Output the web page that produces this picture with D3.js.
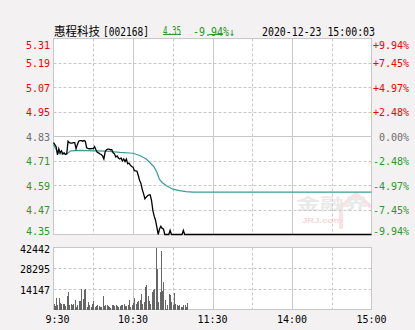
<!DOCTYPE html>
<html><head><meta charset="utf-8">
<script src="https://cdn.jsdelivr.net/npm/d3@7"></script>
<style>html,body{margin:0;padding:0;background:#f3f1f1;}svg{display:block}</style>
</head><body><svg id="c" width="415" height="330"></svg>
<script>
// ---- data ----
const stockName = "惠程科技";
const stockCode = "[002168]";
const lastPrice = "4.35";
const lastChange = "-9.94%↓";
const stamp = "2020-12-23 15:00:03";
const preClose = 4.83;
const priceTicks = [5.31, 5.19, 5.07, 4.95, 4.83, 4.71, 4.59, 4.47, 4.35];
const pctTicks = ["+9.94%", "+7.45%", "+4.97%", "+2.48%", "0.00%", "-2.48%", "-4.97%", "-7.45%", "-9.94%"];
const volTicks = [42442, 28295, 14147];
const timeTickMinutes = [0, 60, 120, 180, 240];
const timeTickLabels = ["9:30", "10:30", "11:30", "14:00", "15:00"];
// price: [minute since 9:30, price]
const pricePoints = [
 [0,4.80],[1,4.79],[2,4.78],[3,4.74],[4,4.77],[5,4.75],[6,4.76],[7,4.745],[8,4.75],[9,4.742],
 [10,4.745],[11,4.807],[12,4.80],[13,4.798],[14,4.798],[15,4.80],[16,4.80],[17,4.77],[18,4.79],[19,4.807],
 [20,4.81],[21,4.81],[22,4.807],[23,4.81],[24,4.807],[25,4.775],[26,4.772],[27,4.77],[28,4.77],[29,4.772],
 [30,4.77],[31,4.78],[32,4.765],[33,4.753],[34,4.75],[35,4.745],[36,4.742],[37,4.735],[38,4.72],[39,4.755],
 [40,4.765],[41,4.768],[42,4.768],[43,4.765],[44,4.765],[45,4.75],[46,4.745],[47,4.73],[48,4.735],[49,4.725],
 [50,4.72],[51,4.725],[52,4.71],[53,4.72],[54,4.707],[55,4.72],[56,4.696],[57,4.70],[58,4.69],[59,4.683],
 [60,4.68],[61,4.663],[62,4.662],[63,4.66],[64,4.639],[65,4.614],[66,4.60],[67,4.57],[68,4.549],[69,4.525],
 [70,4.533],[71,4.54],[72,4.544],[73,4.544],[74,4.516],[75,4.467],[76,4.44],[77,4.42],[78,4.386],[79,4.35],
 [80,4.377],[81,4.39],[82,4.38],[83,4.377],[84,4.35],[87,4.35],[88,4.37],[89,4.35],[97,4.35],[98,4.37],
 [99,4.35],[240,4.35]
];
// average price: [minute, price]
const avgPoints = [
 [0,4.79],[3,4.755],[5,4.745],[10,4.745],[13,4.76],[20,4.762],[30,4.76],[40,4.758],[50,4.752],[60,4.748],
 [65,4.737],[70,4.72],[73,4.70],[76,4.68],[78,4.655],[80,4.62],[82,4.605],[85,4.59],[90,4.572],[95,4.565],
 [100,4.56],[105,4.558],[240,4.558]
];
// volume per minute from 9:30
const volumes = [
 3900,2300,7800,3000,8200,4500,3500,4000,4000,2500,
 9100,12300,3000,3500,2800,3500,6200,2000,3000,5500,
 5700,13700,7300,13400,14000,1600,5000,3000,2000,3600,
 5500,2000,2500,3200,2700,1400,2000,9100,2500,3200,
 3400,2700,2000,1100,3200,3200,2500,3200,2700,2000,
 2500,3200,3000,4100,2700,2300,3000,6600,2000,3000,
 4300,7800,4000,5000,5500,6800,10700,4000,5000,15300,
 16900,9100,6000,4000,12300,13400,14100,42442,27800,4800,
 12300,40100,13000,18700,6600,500,3000,10700,10000,5000,
 3000,11400,3900,3200,2700,3200,2000,1600,3200,3200,
 1600,4500
];

// ---- layout ----
const L = 53.5, R = 371.5, T = 38.5, B = 234.5, VT = 247.5, VB = 309.5;
const svg = d3.select("#c");
const x = d3.scaleLinear().domain([0, 240]).range([L, R]);
const y = d3.scaleLinear().domain([4.35, 5.31]).range([B, T]);
const yv = d3.scaleLinear().domain([0, 42442]).range([VB, VT]);
const red = "#f00000", green = "#2a992a", gray = "#6e6e6e", grid = "#c8c8c8";
const mono = "'DejaVu Sans Mono', 'Liberation Mono', monospace";

// panels
svg.append("rect").attr("x", L).attr("y", T).attr("width", R - L).attr("height", B - T).attr("fill", "#fff");
svg.append("rect").attr("x", L).attr("y", VT).attr("width", R - L).attr("height", VB - VT).attr("fill", "#fff");

// watermark
const wm = svg.append("g");
wm.append("path").attr("d", "M341,229 L341,207 L356,194 L371,207").attr("fill", "none").attr("stroke", "#fbe2e2").attr("stroke-width", 4);
wm.append("text").attr("x", 296).attr("y", 209).attr("font-family", "'Noto Sans CJK SC'").attr("font-weight", "bold")
  .attr("font-size", 15).attr("fill", "#e9e9e9").attr("textLength", 72).attr("lengthAdjust", "spacingAndGlyphs").text("金融界");
wm.append("text").attr("x", 302).attr("y", 223).attr("font-family", "Arial, 'Liberation Sans'").attr("font-weight", "bold")
  .attr("font-size", 8).attr("fill", "#f6d8d8").attr("textLength", 40).attr("lengthAdjust", "spacingAndGlyphs").text("JRJ.com");

// vertical grid
const vMinutes = d3.range(30, 240, 30);
[[T, B], [VT, VB]].forEach(([a, b]) => {
  svg.append("g").selectAll("line").data(vMinutes).join("line")
    .attr("x1", d => Math.round(x(d)) + 0.5).attr("x2", d => Math.round(x(d)) + 0.5)
    .attr("y1", a).attr("y2", b).attr("stroke", grid)
    .attr("stroke-dasharray", d => d % 60 === 0 ? null : "3,2");
});
// horizontal grid price
svg.append("g").selectAll("line").data(priceTicks.slice(1, -1)).join("line")
  .attr("x1", L).attr("x2", R).attr("y1", d => Math.round(y(d)) + 0.5).attr("y2", d => Math.round(y(d)) + 0.5)
  .attr("stroke", grid).attr("stroke-dasharray", d => d === preClose ? null : "3,2");
// horizontal grid volume
svg.append("g").selectAll("line").data(volTicks.slice(1)).join("line")
  .attr("x1", L).attr("x2", R).attr("y1", d => Math.round(yv(d)) + 0.5).attr("y2", d => Math.round(yv(d)) + 0.5)
  .attr("stroke", grid).attr("stroke-dasharray", "3,2");
// borders
svg.append("rect").attr("x", L).attr("y", T).attr("width", R - L).attr("height", B - T).attr("fill", "none").attr("stroke", grid);
svg.append("rect").attr("x", L).attr("y", VT).attr("width", R - L).attr("height", VB - VT).attr("fill", "none").attr("stroke", grid);

// volume bars
svg.append("g").attr("shape-rendering", "crispEdges").selectAll("rect").data(volumes).join("rect")
  .attr("x", (d, i) => Math.round(x(i)))
  .attr("width", 1)
  .attr("y", d => yv(d)).attr("height", d => VB - yv(d))
  .attr("fill", "#666");

// lines
const line = d3.line().x(d => x(d[0])).y(d => y(d[1]));
svg.append("path").datum(avgPoints).attr("d", line).attr("fill", "none").attr("stroke", "#3a9b9b").attr("stroke-width", 1.2);
svg.append("path").datum(pricePoints).attr("d", line).attr("fill", "none").attr("stroke", "#000").attr("stroke-width", 1.3);

// left price labels
const n = priceTicks.length;
const baseY = (i, v) => i === 0 ? y(v) + 10.5 : (i === n - 1 ? y(v) : y(v) + 4);
const colOf = v => v > preClose ? red : (v < preClose ? green : gray);
svg.append("g").selectAll("text").data(priceTicks).join("text")
  .attr("x", 50).attr("y", (d, i) => baseY(i, d)).attr("text-anchor", "end")
  .attr("font-family", mono).attr("font-size", 10).attr("fill", d => colOf(d))
  .text(d => d.toFixed(2));
// right pct labels
svg.append("g").selectAll("text").data(pctTicks).join("text")
  .attr("x", 409).attr("y", (d, i) => baseY(i, priceTicks[i])).attr("text-anchor", "end")
  .attr("font-family", mono).attr("font-size", 10).attr("fill", (d, i) => colOf(priceTicks[i]))
  .text(d => d);
// volume labels
svg.append("g").selectAll("text").data(volTicks).join("text")
  .attr("x", 50).attr("y", (d, i) => i === 0 ? yv(d) + 5.5 : yv(d) + 5).attr("text-anchor", "end")
  .attr("font-family", mono).attr("font-size", 10).attr("fill", "#000")
  .text(d => d);
// time labels
svg.append("g").selectAll("text").data(timeTickMinutes).join("text")
  .attr("x", (d, i) => x(d) + (i === 0 ? 4 : 0)).attr("y", 322.5).attr("text-anchor", "middle")
  .attr("font-family", mono).attr("font-size", 10).attr("fill", "#000")
  .text((d, i) => timeTickLabels[i]);

// title
const ty = 35.5;
svg.append("text").attr("x", 54).attr("y", ty).attr("font-family", "'Noto Sans CJK SC'").attr("font-size", 12)
  .attr("textLength", 46).attr("lengthAdjust", "spacingAndGlyphs").attr("fill", "#000").text(stockName);
svg.append("text").attr("x", 103).attr("y", ty).attr("font-family", mono).attr("font-size", 11.5)
  .attr("textLength", 46).attr("lengthAdjust", "spacingAndGlyphs").attr("fill", "#000").text(stockCode);
svg.append("text").attr("x", 163).attr("y", ty - 1).attr("font-family", mono).attr("font-size", 11.5)
  .attr("textLength", 18).attr("lengthAdjust", "spacingAndGlyphs").attr("fill", green).text(lastPrice);
svg.append("line").attr("x1", 163).attr("x2", 181).attr("y1", 34.5).attr("y2", 34.5).attr("stroke", green);
svg.append("text").attr("x", 193).attr("y", ty).attr("font-family", mono).attr("font-size", 11.5)
  .attr("textLength", 42).attr("lengthAdjust", "spacingAndGlyphs").attr("fill", green).text(lastChange);
svg.append("line").attr("x1", 209).attr("x2", 223).attr("y1", 34.5).attr("y2", 34.5).attr("stroke", green);
svg.append("text").attr("x", 262).attr("y", ty).attr("font-family", mono).attr("font-size", 11.5)
  .attr("textLength", 113).attr("lengthAdjust", "spacingAndGlyphs").attr("fill", "#000").text(stamp);
</script></body></html>
